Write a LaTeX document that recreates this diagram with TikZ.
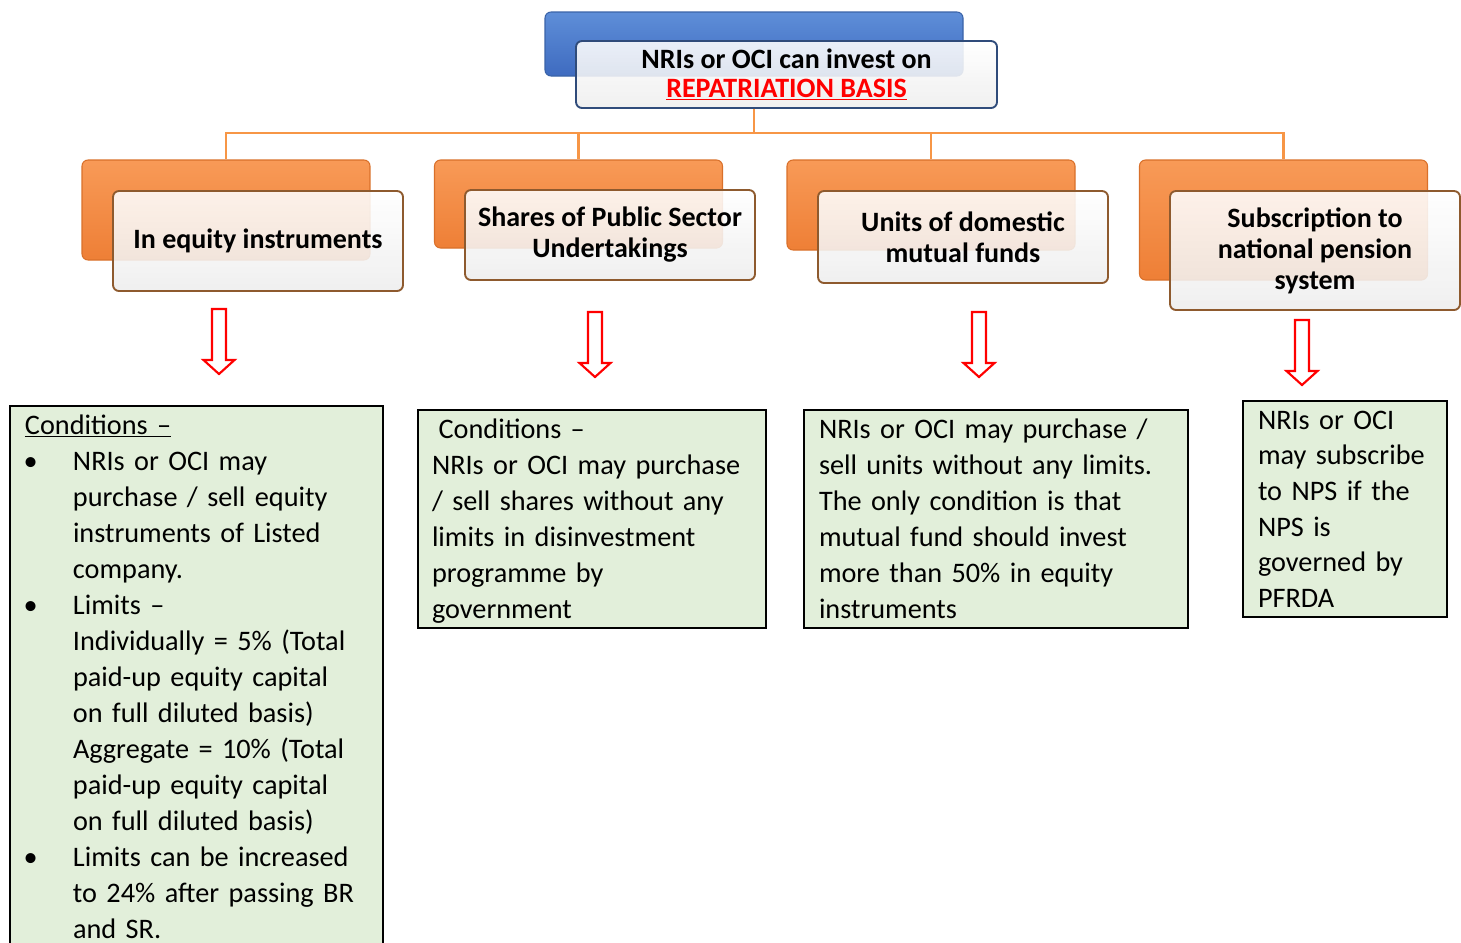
\documentclass[tikz,border=0pt]{standalone}
\usepackage{fontspec}
\setmainfont{Carlito}
\usepackage{tikz}
\usetikzlibrary{positioning,calc}
\definecolor{ink}{HTML}{000000}
\definecolor{oline}{HTML}{F79646}
\definecolor{otop}{HTML}{F89A57}
\definecolor{obot}{HTML}{EE7F36}
\definecolor{oedge}{HTML}{D9702A}
\definecolor{btop}{HTML}{5E8ED8}
\definecolor{bbot}{HTML}{3E6BC0}
\definecolor{bedge}{HTML}{3A63A8}
\definecolor{fbrown}{HTML}{8E5A2E}
\definecolor{fnavy}{HTML}{2F4B7A}
\definecolor{pgreen}{HTML}{E2EFDA}
\definecolor{pred}{HTML}{FF0000}
\newcommand{\bul}{\makebox[36pt][l]{\hspace{-1pt}\textbullet}}
\newcommand{\ind}{\hspace*{36pt}}
\newcommand{\topgap}{\rule{0pt}{18.7pt}}
\newcommand{\botgap}[1][4.5pt]{\rule[-#1]{0pt}{0pt}}

\begin{document}
\begin{tikzpicture}[
  x=0.75pt, y=-0.75pt,
  every node/.style={align=center},
  back/.style={rounded corners=4.5pt, draw=oedge, line width=0.8pt,
               top color=otop, bottom color=obot, minimum width=216pt},
  front/.style={rounded corners=4.5pt, draw=fbrown, line width=1.4pt,
                top color=white, bottom color=white!93!black, fill opacity=0.88,
                text opacity=1, minimum width=217.5pt,
                font=\fontsize{21}{23.25}\selectfont\bfseries},
  bback/.style={back, draw=bedge, top color=btop, bottom color=bbot},
  bfront/.style={front, draw=fnavy, font=\fontsize{21}{21.75}\selectfont\bfseries},
  cond/.style={draw=ink, line width=1.5pt, fill=pgreen, align=left, anchor=north west,
               inner xsep=11.25pt, inner ysep=2.5pt, font=\fontsize{21.2}{27}\selectfont},
  link/.style={draw=oline, line width=2pt},
  hollow/.style={draw=pred, line width=1.6pt, fill=white, line join=miter},
  downarr/.pic={\draw[hollow] (-7,0) -- (7,0) -- (7,51) -- (15.5,51) -- (0,65)
                -- (-15.5,51) -- (-7,51) -- cycle;},
]
\clip (0,0) rectangle (1461,943);

% top
\node[bback, minimum width=313.5pt, minimum height=48pt] (topb) at (754,44) {};
\node[bfront, minimum width=315.75pt, minimum height=50.25pt] (top) at (786.5,74.5)
  {NRIs or OCI can invest on\\{\color{pred}\underline{REPATRIATION BASIS}}};

% four routes
\node[back, minimum height=75pt] (eqb) at (226,210) {};
\node[front, minimum height=75pt] (eq) at (258,241) {In equity instruments};
\node[back, minimum height=66pt] (psub) at (578.5,204) {};
\node[front, minimum height=67.5pt] (psu) at (610,235) {Shares of Public Sector\\Undertakings};
\node[back, minimum height=67.5pt] (mfb) at (931,205) {};
\node[front, minimum height=69pt] (mf) at (963,237) {Units of domestic\\mutual funds};
\node[back, minimum height=90pt] (npsb) at (1283.5,220) {};
\node[front, minimum height=89.25pt] (nps) at (1315,250.5) {Subscription to\\national pension\\system};

\coordinate (bus) at (754,133);
\draw[link] (topb.center |- top.south) -- (bus);
\draw[link] (bus) -| (eqb.north);
\draw[link] (bus) -| (psub.north);
\draw[link] (bus) -| (mfb.north);
\draw[link] (bus) -| (npsb.north);

\pic at (219,309) {downarr};
\pic at (595,312) {downarr};
\pic at (979,312) {downarr};
\pic at (1302,320) {downarr};

% conditions
\node[cond, text width=257.25pt] (c1) at (9,405)
  {\topgap\underline{Conditions –}\\
   \bul NRIs or OCI may\\
   \ind purchase / sell equity\\
   \ind instruments of Listed\\
   \ind company.\\
   \bul Limits –\\
   \ind Individually = 5\% (Total\\
   \ind paid-up equity capital\\
   \ind on full diluted basis)\\
   \ind Aggregate = 10\% (Total\\
   \ind paid-up equity capital\\
   \ind on full diluted basis)\\
   \bul Limits can be increased\\
   \ind to 24\% after passing BR\\
   \ind and SR.\botgap[26pt]};
\node[cond, text width=240pt, inner xsep=10.5pt] (c2) at (417,409)
  {\topgap\hspace*{5pt}Conditions –\\
   NRIs or OCI may purchase\\
   / sell shares without any\\
   limits in disinvestment\\
   programme by\\
   government\botgap};
\node[cond, text width=265.5pt] (c3) at (803,409)
  {\topgap NRIs or OCI may purchase /\\
   sell units without any limits.\\
   The only condition is that\\
   mutual fund should invest\\
   more than 50\% in equity\\
   instruments\botgap};
\node[cond, text width=130.5pt, font=\fontsize{21.2}{26.7}\selectfont] (c4) at (1242,400)
  {\topgap NRIs or OCI\\
   may subscribe\\
   to NPS if the\\
   NPS is\\
   governed by\\
   PFRDA\botgap};
\end{tikzpicture}
\end{document}
